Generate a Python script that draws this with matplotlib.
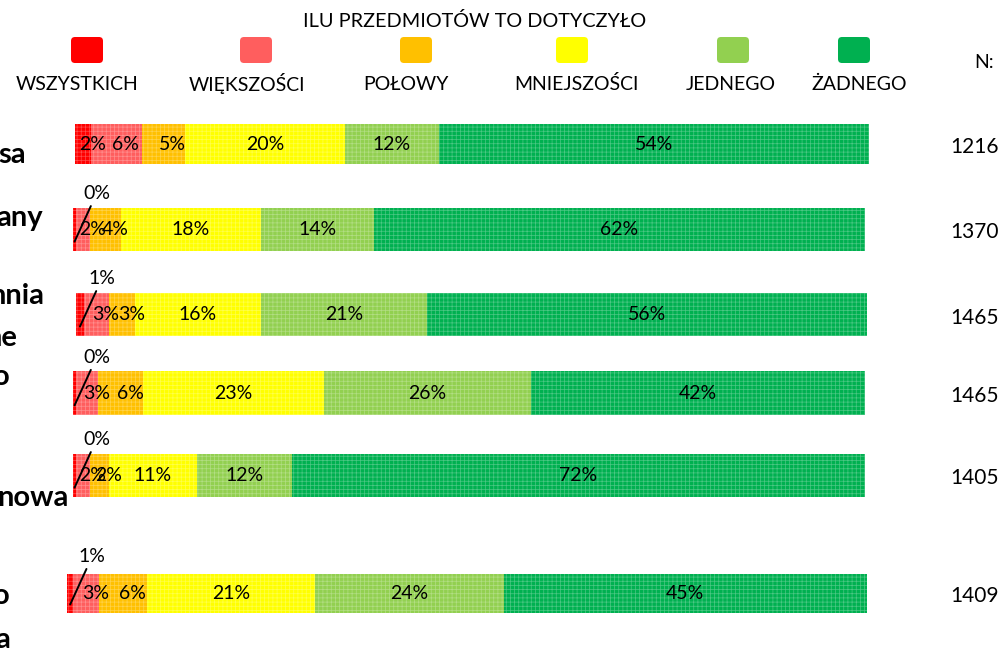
import matplotlib.pyplot as plt
from matplotlib.patches import FancyBboxPatch

plt.rcParams['font.family'] = ['Lato', 'DejaVu Sans']
plt.rcParams['hatch.linewidth'] = 0.5

# legend / answer categories
categories = ['WSZYSTKICH', 'WIĘKSZOŚCI', 'POŁOWY', 'MNIEJSZOŚCI', 'JEDNEGO', 'ŻADNEGO']
colors = ['#FF0000', '#FF5E5E', '#FFC000', '#FFFF00', '#92D050', '#00B050']
legend_title = 'ILU PRZEDMIOTÓW TO DOTYCZYŁO'

# shares per row (%)
row_1 = [2.0, 6.4, 5.4, 20.2, 11.8, 54.2]
row_2 = [0.4, 1.8, 3.8, 17.8, 14.2, 62.0]
row_3 = [1.0, 3.2, 3.2, 16.0, 21.0, 55.6]
row_4 = [0.4, 2.8, 5.6, 22.9, 26.1, 42.2]
row_5 = [0.4, 1.8, 2.3, 11.2, 11.9, 72.4]
row_6 = [0.8, 3.2, 6.0, 21.0, 23.6, 45.4]
rows = [row_1, row_2, row_3, row_4, row_5, row_6]
n_values = [1216, 1370, 1465, 1465, 1405, 1409]

# what is left visible of the (cropped) row labels on the left edge
stub_texts = ['sa', 'any', 'nnia', 'ne', 'o', 'nowa', 'o', 'a']

W, H = 1002, 651
fig = plt.figure(figsize=(W / 100, H / 100), dpi=100)

# overlay in pixel coordinates for text & legend
ov = fig.add_axes([0, 0, 1, 1])
ov.set_xlim(0, W)
ov.set_ylim(H, 0)
ov.axis('off')

# bar boxes (pixels): x0, x1, y0, y1
boxes = [(75, 869, 124, 164), (73, 865, 208, 251), (76, 867, 293, 336),
         (73, 865, 371, 415), (73, 865, 454, 497), (67, 867, 574, 613)]

for vals, (x0, x1, y0, y1), n in zip(rows, boxes, n_values):
    ax = fig.add_axes([x0 / W, 1 - y1 / H, (x1 - x0) / W, (y1 - y0) / H])
    ax.set_xlim(0, 100)
    ax.set_ylim(0, 1)
    ax.axis('off')
    left = 0
    for i, v in enumerate(vals):
        ax.barh(0.5, v, left=left, height=1, color=colors[i],
                edgecolor=(1, 1, 1, 0.3), hatch='++++', linewidth=0)
        lab = f'{v:.0f}%'
        if i == 0 and v < 1.5:
            ax.annotate(lab, xy=(left + v / 2, 0.22), xytext=(22, 48),
                        textcoords='offset pixels', ha='center', va='center',
                        fontsize=14, annotation_clip=False,
                        arrowprops=dict(arrowstyle='-', color='black', lw=1.4,
                                        shrinkA=1, shrinkB=0))
        else:
            # small segments: labels sit a bit to the right, like the source
            dx = 1.2 if v < 7 and i < 3 else 0
            ax.text(left + v / 2 + dx, 0.5, lab, ha='center', va='center', fontsize=14)
        left += v
    ov.text(975, (y0 + y1) / 2 + 3, str(n), ha='center', va='center', fontsize=15)

# legend
ov.text(475, 21, legend_title, ha='center', va='center', fontsize=14.3)
marker_x = [87, 256, 416, 572, 733, 854]
label_x = [77, 247, 406, 576, 731, 859]
for name, c, mx, lx in zip(categories, colors, marker_x, label_x):
    ov.add_patch(FancyBboxPatch((mx - 13, 40), 26, 20,
                                boxstyle='round,pad=3,rounding_size=4',
                                facecolor=c, edgecolor='none'))
    ov.text(lx, 84, name, ha='center', va='center', fontsize=14)
ov.text(984, 63, 'N:', ha='center', va='center', fontsize=14)

# cropped row labels
stub_pos = [(26, 155), (43, 218), (44, 296), (17, 338), (10, 377),
            (69, 498), (10, 596), (10, 640)]
for t, (x, y) in zip(stub_texts, stub_pos):
    ov.text(x, y, t, ha='right', va='center', fontsize=21, fontweight='bold')

fig.savefig('out.png', dpi=100)
